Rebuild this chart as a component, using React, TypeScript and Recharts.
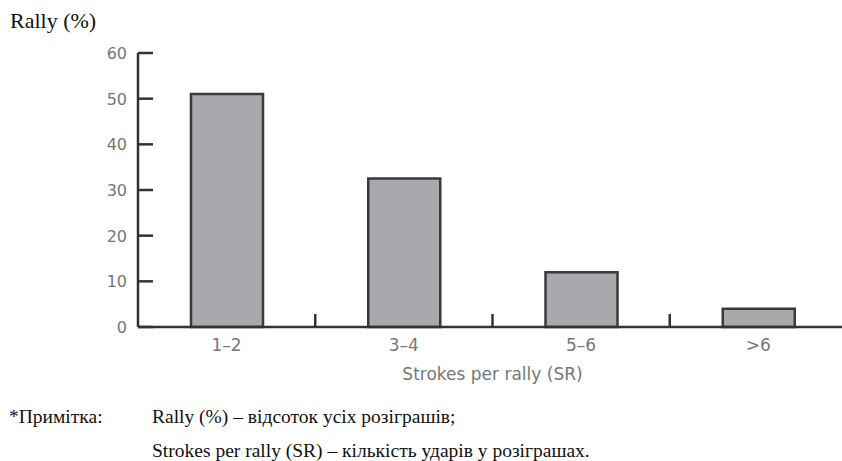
import React from "react";
import { BarChart, Bar, XAxis, YAxis } from "recharts";

const categories = ["1–2", "3–4", "5–6", ">6"];
const rallyPercent = [51, 32.5, 12, 4];
const yTicks = [0, 10, 20, 30, 40, 50, 60];
const yAxisTitle = "Rally (%)";
const xAxisTitle = "Strokes per rally (SR)";
const noteLabel = "*Примітка:";
const noteLines = [
  "Rally (%) – відсоток усіх розіграшів;",
  "Strokes per rally (SR) – кількість ударів у розіграшах.",
];

const data = categories.map((c, i) => ({ sr: c, rally: rallyPercent[i] }));

const AXIS_COLOR = "#333333";
const LABEL_COLOR = "#767676";
const AXIS_FONT = "'DejaVu Sans', sans-serif";
const SERIF = "'Liberation Serif', 'Times New Roman', serif";

const XTick = (props: any) => {
  const { x, y, payload, index } = props;
  const half = payload && payload.offset ? payload.offset : 0;
  return (
    <g>
      {index > 0 ? (
        <line x1={x - half} x2={x - half} y1={y - 13} y2={y} stroke={AXIS_COLOR} strokeWidth={2.5} />
      ) : null}
      <text x={x} y={y + 24} textAnchor="middle" fontFamily={AXIS_FONT} fontSize={17} fill={LABEL_COLOR}>
        {payload.value}
      </text>
    </g>
  );
};

const YTick = (props: any) => {
  const { x, y, payload } = props;
  return (
    <g>
      <line x1={x} x2={x + 15} y1={y} y2={y} stroke={AXIS_COLOR} strokeWidth={2.5} />
      <text x={x - 11} y={y + 6} textAnchor="end" fontFamily={AXIS_FONT} fontSize={16} fill={LABEL_COLOR}>
        {payload.value}
      </text>
    </g>
  );
};

const XTitle = (props: any) => {
  const vb = props.viewBox || {};
  return (
    <text
      x={vb.x + vb.width / 2}
      y={vb.y + 53}
      textAnchor="middle"
      fontFamily={AXIS_FONT}
      fontSize={17}
      fill={LABEL_COLOR}
    >
      {xAxisTitle}
    </text>
  );
};

export default function App() {
  return (
    <div
      style={{
        position: "absolute",
        left: 0,
        top: 0,
        width: 842,
        height: 461,
        overflow: "hidden",
        background: "#ffffff",
      }}
    >
      <BarChart
        width={847}
        height={461}
        data={data}
        margin={{ top: 53, right: 0, bottom: 74, left: 0 }}
        barSize={72}
      >
        <YAxis
          width={138}
          domain={[0, 60]}
          ticks={yTicks}
          interval={0}
          tickLine={false}
          tickSize={0}
          tickMargin={0}
          axisLine={{ stroke: AXIS_COLOR, strokeWidth: 2.5 }}
          tick={<YTick />}
        />
        <XAxis
          dataKey="sr"
          height={60}
          interval={0}
          tickLine={false}
          tickSize={0}
          tickMargin={0}
          axisLine={{ stroke: AXIS_COLOR, strokeWidth: 2.5 }}
          tick={<XTick />}
          label={<XTitle />}
        />
        <Bar
          dataKey="rally"
          fill="#a9a9ad"
          stroke="#3a3a3a"
          strokeWidth={2.5}
          isAnimationActive={false}
        />
      </BarChart>
      <svg
        width={842}
        height={461}
        style={{ position: "absolute", left: 0, top: 0, pointerEvents: "none" }}
      >
        <text x={10} y={28} fontFamily={SERIF} fontSize={22} fill="#111">
          {yAxisTitle}
        </text>
        <text x={9} y={423} fontFamily={SERIF} fontSize={19.5} fill="#111">
          {noteLabel}
        </text>
        <text x={152} y={423} fontFamily={SERIF} fontSize={19.5} fill="#111">
          {noteLines[0]}
        </text>
        <text x={152} y={457} fontFamily={SERIF} fontSize={19.5} fill="#111">
          {noteLines[1]}
        </text>
      </svg>
    </div>
  );
}
